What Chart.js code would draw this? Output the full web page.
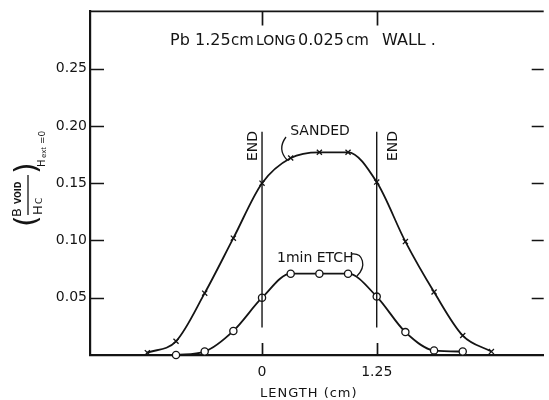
<!DOCTYPE html>
<html>
<head>
<meta charset="utf-8">
<script src="https://cdn.jsdelivr.net/npm/chart.js@4"></script>
<style>
  html, body { margin: 0; padding: 0; background: #fff; overflow: hidden; }
  #wrap { width: 549px; height: 400px; position: relative; }
</style>
</head>
<body>
<div id="wrap"><canvas id="c" width="549" height="400"></canvas></div>
<script>
// Positions along the cylinder (cm), measured from the END at 0
const sandedPositions = [-1.25, -0.9375, -0.625, -0.3125, 0, 0.3125, 0.625, 0.9375, 1.25, 1.5625, 1.875, 2.1875, 2.5];
const sandedValues    = [0.002, 0.012, 0.054, 0.102, 0.150, 0.172, 0.177, 0.177, 0.151, 0.099, 0.055, 0.017, 0.003];

const etchPositions = [-0.9375, -0.625, -0.3125, 0, 0.3125, 0.625, 0.9375, 1.25, 1.5625, 1.875, 2.1875];
const etchValues    = [0.000, 0.003, 0.021, 0.050, 0.071, 0.071, 0.071, 0.051, 0.020, 0.004, 0.003];

// Cylinder ends and the vertical extent of their marker lines
const endPositions = [0, 1.25];
const endLineSpan  = [0.024, 0.195];

// Axis ranges and ticks
const xRange = [-1.875, 3.07];
const yRange = [0, 0.30];
const xTickValues = [0, 1.25];
const yTickValues = [0.05, 0.10, 0.15, 0.20, 0.25];

const INK = '#141414';
const FONT = '"DejaVu Sans", sans-serif';

const toPoints = (xs, ys) => xs.map((x, i) => ({ x, y: ys[i] }));

const endDatasets = endPositions.map(e => ({
  data: [{ x: e, y: endLineSpan[0] }, { x: e, y: endLineSpan[1] }],
  showLine: true,
  borderColor: INK,
  borderWidth: 1.4,
  pointRadius: 0,
  clip: false
}));

// Inward tick marks, frame top, annotations and the y-axis label
const decorations = {
  id: 'decorations',
  afterDatasetsDraw(chart) {
    const { ctx, chartArea: a, scales: { x, y } } = chart;
    ctx.save();
    ctx.strokeStyle = INK;
    ctx.fillStyle = INK;

    // frame top
    ctx.lineWidth = 1.8;
    ctx.beginPath();
    ctx.moveTo(a.left, a.top); ctx.lineTo(a.right, a.top);
    ctx.stroke();

    // inward ticks
    ctx.lineWidth = 1.7;
    ctx.beginPath();
    yTickValues.forEach(v => {
      const py = Math.round(y.getPixelForValue(v)) + 0.5;
      ctx.moveTo(a.left, py); ctx.lineTo(a.left + 14, py);
      ctx.moveTo(a.right - 12, py); ctx.lineTo(a.right, py);
    });
    xTickValues.forEach(v => {
      const px = Math.round(x.getPixelForValue(v)) + 0.5;
      ctx.moveTo(px, a.top); ctx.lineTo(px, a.top + 14);
      ctx.moveTo(px, a.bottom); ctx.lineTo(px, a.bottom - 12);
    });
    ctx.stroke();

    // title
    ctx.textBaseline = 'alphabetic';
    ctx.textAlign = 'left';
    ctx.font = '16px ' + FONT;
    ctx.fillText('Pb', 170, 45);
    ctx.fillText('1.25', 195, 45);
    ctx.font = '15px ' + FONT;
    ctx.fillText('cm', 231, 45);
    ctx.font = '14px ' + FONT;
    ctx.fillText('LONG', 256, 45);
    ctx.font = '16px ' + FONT;
    ctx.fillText('0.025', 298, 45);
    ctx.font = '15px ' + FONT;
    ctx.fillText('cm', 346, 45);
    ctx.font = '16px ' + FONT;
    ctx.fillText('WALL .', 382, 45);

    // curve labels
    ctx.font = '14px ' + FONT;
    ctx.textAlign = 'center';
    ctx.fillText('SANDED', 320, 135);
    ctx.textAlign = 'left';
    ctx.fillText('1min ETCH', 277, 262);

    // leaders
    ctx.lineWidth = 1.3;
    ctx.beginPath();
    ctx.moveTo(286, 137);
    ctx.quadraticCurveTo(277, 149, 287, 160);
    ctx.moveTo(352, 254);
    ctx.bezierCurveTo(363, 253, 367, 266, 357, 276);
    ctx.stroke();

    // END labels (rotated)
    ctx.font = '14px ' + FONT;
    ctx.textAlign = 'center';
    ctx.textBaseline = 'middle';
    [[252, 146], [392, 146]].forEach(([cx, cy]) => {
      ctx.save();
      ctx.translate(cx, cy);
      ctx.rotate(-Math.PI / 2);
      ctx.fillText('END', 0, 1);
      ctx.restore();
    });

    // x-axis title
    ctx.textAlign = 'left';
    ctx.textBaseline = 'alphabetic';
    ctx.font = '13px ' + FONT;
    ctx.letterSpacing = '1px';
    ctx.fillText('LENGTH (cm)', 260, 397);
    ctx.letterSpacing = '0px';

    // y-axis label: (B_VOID / H_C)_{H_ext=0}
    ctx.save();
    ctx.translate(28, 196);
    ctx.rotate(-Math.PI / 2);
    ctx.textAlign = 'left';
    ctx.textBaseline = 'alphabetic';
    ctx.font = '13px ' + FONT;
    ctx.fillText('B', -21, -7);
    ctx.font = 'bold 8px ' + FONT;
    ctx.fillText('VOID', -8, -7);
    ctx.lineWidth = 1.3;
    ctx.beginPath();
    ctx.moveTo(-19, 0); ctx.lineTo(21, 0);
    ctx.stroke();
    ctx.font = '13px ' + FONT;
    ctx.fillText('H', -19, 14);
    ctx.font = '9px ' + FONT;
    ctx.fillText('C', -8, 14);
    ctx.font = '30px ' + FONT;
    ctx.fillText('(', -31, 8);
    ctx.fillText(')', 22, 8);
    ctx.font = '10px ' + FONT;
    ctx.fillText('H', 29, 17);
    ctx.font = '7px ' + FONT;
    ctx.fillText('ext', 38, 18);
    ctx.font = '9px ' + FONT;
    ctx.fillText('=0', 52, 17);
    ctx.restore();

    ctx.restore();
  }
};

new Chart(document.getElementById('c'), {
  type: 'scatter',
  data: {
    datasets: [
      ...endDatasets,
      {
        label: 'SANDED',
        data: toPoints(sandedPositions, sandedValues),
        showLine: true,
        cubicInterpolationMode: 'monotone',
        borderColor: INK,
        borderWidth: 1.8,
        pointStyle: 'crossRot',
        pointRadius: 3.6,
        pointBorderWidth: 1.3,
        pointBorderColor: INK,
        clip: false
      },
      {
        label: '1min ETCH',
        data: toPoints(etchPositions, etchValues),
        showLine: true,
        cubicInterpolationMode: 'monotone',
        borderColor: INK,
        borderWidth: 1.8,
        pointStyle: 'circle',
        pointRadius: 3.6,
        pointBorderWidth: 1.3,
        pointBorderColor: INK,
        pointBackgroundColor: '#fff',
        clip: false
      }
    ]
  },
  options: {
    responsive: false,
    devicePixelRatio: 1,
    animation: false,
    layout: { padding: { top: 9, right: 0, left: 0, bottom: 0 } },
    plugins: { legend: { display: false }, tooltip: { enabled: false } },
    scales: {
      x: {
        type: 'linear',
        min: xRange[0],
        max: xRange[1],
        afterBuildTicks(s) { s.ticks = xTickValues.map(v => ({ value: v })); },
        afterFit(s) { s.height = 45; },
        grid: { display: false, drawTicks: false },
        border: { display: true, color: INK, width: 2.2 },
        ticks: {
          color: INK,
          padding: 9,
          font: { family: FONT, size: 14 },
          callback: v => (v === 0 ? '0' : v.toFixed(2))
        }
      },
      y: {
        type: 'linear',
        min: yRange[0],
        max: yRange[1],
        afterBuildTicks(s) { s.ticks = yTickValues.map(v => ({ value: v })); },
        afterFit(s) { s.width = 90; },
        grid: { display: false, drawTicks: false },
        border: { display: true, color: INK, width: 2.2 },
        ticks: {
          color: INK,
          padding: 3,
          font: { family: FONT, size: 14 },
          callback: v => v.toFixed(2)
        }
      }
    }
  },
  plugins: [decorations]
});
</script>
</body>
</html>
